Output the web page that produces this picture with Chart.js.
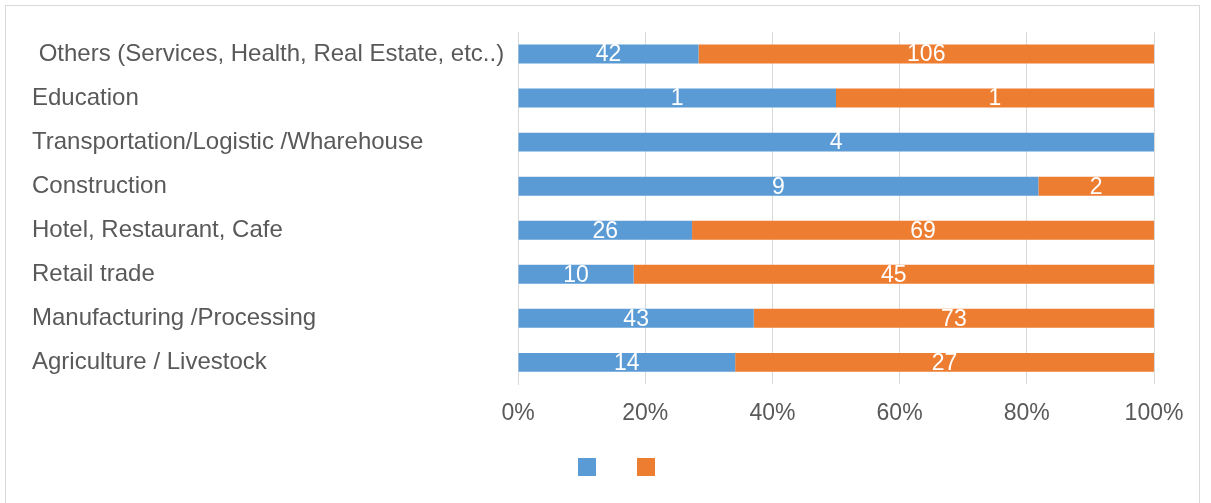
<!DOCTYPE html>
<html>
<head>
<meta charset="utf-8">
<script src="https://cdn.jsdelivr.net/npm/chart.js@4/dist/chart.umd.min.js"></script>
<style>
  html, body { margin: 0; padding: 0; background: #fff; }
  #frame {
    position: absolute; left: 5px; top: 5px;
    width: 1195px; height: 510px;
    box-sizing: border-box;
    border: 1px solid #d9d9d9;
  }
  #sektorChart { display: block; }
</style>
</head>
<body>
<div id="frame">
  <canvas id="sektorChart" width="1193" height="508"></canvas>
</div>
<script>
// Sektoren, von oben nach unten
const sektoren = [
  " Others (Services, Health, Real Estate, etc..)",
  "Education",
  "Transportation/Logistic /Wharehouse",
  "Construction",
  "Hotel, Restaurant, Cafe",
  "Retail trade",
  "Manufacturing /Processing",
  "Agriculture / Livestock"
];

// Anzahl je Sektor (blau / orange)
const anzahlBlau = [42, 1, 4, 9, 26, 10, 43, 14];
const anzahlOrange = [106, 1, 0, 2, 69, 45, 73, 27];

const achsenTicks = [0, 20, 40, 60, 80, 100];

const blau = "#5b9bd5";
const orange = "#ed7d31";

// Anteile in Prozent (100% gestapelt)
const summen = anzahlBlau.map((b, i) => b + anzahlOrange[i]);
const anteilBlau = anzahlBlau.map((b, i) => b / summen[i] * 100);
const anteilOrange = anzahlOrange.map((o, i) => o / summen[i] * 100);

// Zahlen mittig in die Balken schreiben
const werteLabels = {
  id: "werteLabels",
  afterDatasetsDraw(chart) {
    const ctx = chart.ctx;
    ctx.save();
    ctx.fillStyle = "#ffffff";
    ctx.font = "23px 'Liberation Sans', Arial, sans-serif";
    ctx.textAlign = "center";
    ctx.textBaseline = "middle";
    chart.data.datasets.forEach((ds, d) => {
      chart.getDatasetMeta(d).data.forEach((bar, i) => {
        const n = ds.anzahl[i];
        if (!n) return;
        ctx.fillText(String(n), (bar.x + bar.base) / 2, bar.y + 1);
      });
    });
    ctx.restore();
  }
};

// Legende verschieben (rechts, nach oben)
const legendeVersatz = {
  id: "legendeVersatz",
  afterLayout(chart) {
    chart.legend.left += 28;
    chart.legend.right += 28;
    chart.legend.top -= 16;
    chart.legend.bottom -= 16;
  }
};

const chart = new Chart(document.getElementById("sektorChart"), {
  type: "bar",
  data: {
    labels: sektoren,
    datasets: [
      { label: "", data: anteilBlau, anzahl: anzahlBlau, backgroundColor: blau },
      { label: "", data: anteilOrange, anzahl: anzahlOrange, backgroundColor: orange }
    ]
  },
  plugins: [werteLabels, legendeVersatz],
  options: {
    responsive: false,
    animation: false,
    indexAxis: "y",
    layout: { padding: { left: 26, right: 45, top: 26, bottom: 12 } },
    datasets: {
      bar: { barPercentage: 0.43, categoryPercentage: 1 }
    },
    scales: {
      x: {
        stacked: true,
        min: 0,
        max: 100,
        afterBuildTicks(scale) {
          scale.ticks = achsenTicks.map(v => ({ value: v }));
        },
        ticks: {
          callback: v => v + "%",
          color: "#595959",
          padding: 15,
          font: { family: "'Liberation Sans', Arial, sans-serif", size: 23 }
        },
        grid: { color: "#d9d9d9", drawTicks: false },
        border: { display: false }
      },
      y: {
        stacked: true,
        afterFit(scale) { scale.width = 486; },
        ticks: {
          crossAlign: "far",
          color: "#595959",
          font: { family: "'Liberation Sans', Arial, sans-serif", size: 24 }
        },
        grid: { display: false },
        border: { display: true, color: "#d9d9d9" }
      }
    },
    plugins: {
      legend: {
        position: "bottom",
        labels: {
          boxWidth: 18,
          boxHeight: 18,
          padding: 32,
          font: { size: 18 }
        }
      },
      tooltip: { enabled: false }
    }
  }
});
</script>
</body>
</html>
